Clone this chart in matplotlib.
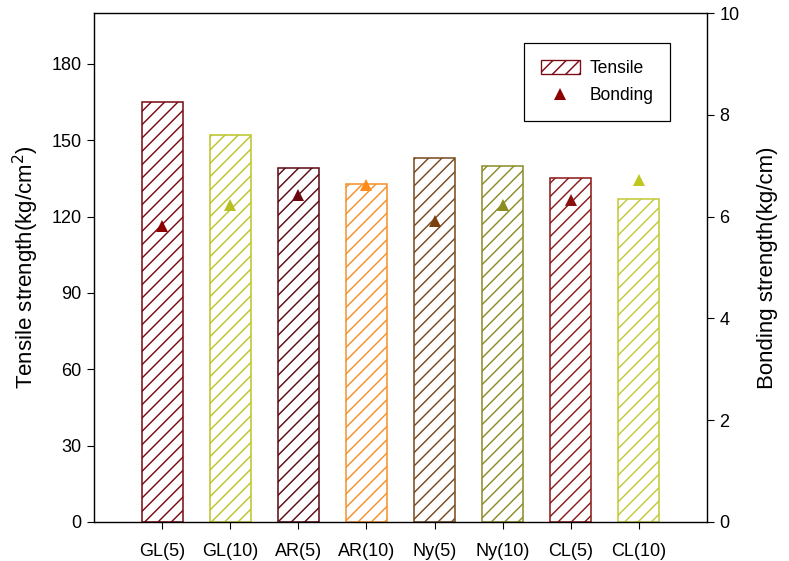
import numpy as np
from matplotlib import pyplot as plt
from matplotlib.patches import Patch
from matplotlib.lines import Line2D

plt.rcParams['font.family'] = ['Liberation Sans', 'DejaVu Sans']
plt.rcParams['hatch.linewidth'] = 1.3

# data
samples = ['GL(5)', 'GL(10)', 'AR(5)', 'AR(10)', 'Ny(5)', 'Ny(10)', 'CL(5)', 'CL(10)']
tensile = [165, 152, 139, 133, 143, 140, 135, 127]          # kg/cm2
bonding = [5.82, 6.23, 6.42, 6.63, 5.92, 6.23, 6.33, 6.72]   # kg/cm

bar_colors = ['#7B0A14', '#BCC42A', '#5C0A14', '#F5912A',
              '#7A4A20', '#8C8C28', '#8B1A1A', '#C2C83A']
tri_colors = ['#8B0000', '#B8C020', '#6A0A10', '#FF8C1A',
              '#7A4010', '#8C8C20', '#8B1010', '#C0C820']

dpi = 80
fig = plt.figure(figsize=(789 / dpi, 561 / dpi), dpi=dpi)
ax = fig.add_axes([94 / 789, 1 - 522 / 561, (707 - 94) / 789, (522 - 13) / 561])

x = np.arange(len(samples))
for i in range(len(samples)):
    ax.bar(x[i], tensile[i], width=0.6, facecolor='white', edgecolor=bar_colors[i],
           hatch='//', linewidth=1.4, zorder=2)

ax.set_xlim(-1, len(samples))
ax.set_ylim(0, 200)
ax.set_yticks(np.arange(0, 181, 30))
ax.set_xticks(x)
ax.set_xticklabels(samples)
ax.tick_params(axis='both', direction='out', length=6, width=1, labelsize=16.2, pad=5)
ax.tick_params(axis='x', pad=13)
ax.set_ylabel('Tensile strength(kg/cm$^2$)', fontsize=20, labelpad=10)

ax2 = ax.twinx()
for i in range(len(samples)):
    ax2.plot(x[i], bonding[i], linestyle='none', marker='^', markersize=11,
             color=tri_colors[i], markeredgewidth=0, zorder=3)
ax2.set_ylim(0, 10)
ax2.set_yticks(np.arange(0, 11, 2))
ax2.tick_params(axis='y', direction='out', length=6, width=1, labelsize=16.2, pad=5)
ax2.set_ylabel('Bonding strength(kg/cm)', fontsize=20, labelpad=16)

for a in (ax, ax2):
    for s in a.spines.values():
        s.set_linewidth(1.1)

handles = [Patch(facecolor='white', edgecolor='#7B0A14', hatch='//', linewidth=1.2),
           Line2D([], [], linestyle='none', marker='^', markersize=11,
                  color='#8B0000', markeredgewidth=0)]
leg = ax2.legend(handles, ['Tensile', 'Bonding'], loc='upper right',
                 bbox_to_anchor=(670 / 789, 1 - 43 / 561), bbox_transform=fig.transFigure,
                 borderaxespad=0, fancybox=False, framealpha=1, edgecolor='black',
                 fontsize=15.8, handlelength=2.2, handleheight=0.85, handletextpad=0.55,
                 borderpad=0.95, labelspacing=0.6)
leg.get_frame().set_linewidth(1.1)

fig.savefig('out.png', dpi=dpi)
